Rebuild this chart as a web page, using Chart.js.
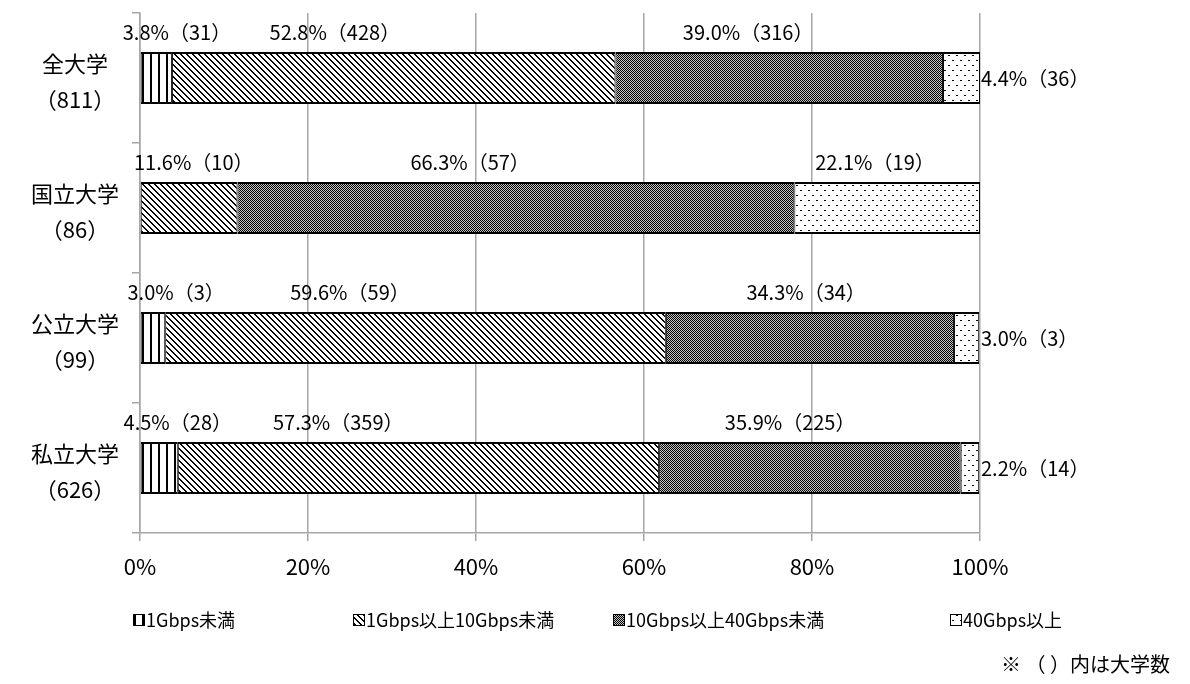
<!DOCTYPE html>
<html lang="ja">
<head>
<meta charset="utf-8">
<title>大学の対外接続回線帯域</title>
<script src="https://cdn.jsdelivr.net/npm/chart.js@4.4.1/dist/chart.umd.min.js"></script>
<style>
  html, body { margin: 0; padding: 0; background: #ffffff; }
  #wrap { width: 1190px; height: 684px; position: relative; }
  canvas { display: block; }
</style>
</head>
<body>
<div id="wrap"><canvas id="chart" width="1190" height="684"></canvas></div>
<script>
// Categories (university groups) and the number of universities in each
const groups = ['全大学', '国立大学', '公立大学', '私立大学'];
const groupTotals = [811, 86, 99, 626];

// Bandwidth classes
const bands = ['1Gbps未満', '1Gbps以上10Gbps未満', '10Gbps以上40Gbps未満', '40Gbps以上'];

// Share (%) per class, in group order
const under1G      = [3.8, 0.0, 3.0, 4.5];
const from1To10G   = [52.8, 11.6, 59.6, 57.3];
const from10To40G  = [39.0, 66.3, 34.3, 35.9];
const over40G      = [4.4, 22.1, 3.0, 2.2];

// Number of universities per class
const under1GCount     = [31, 0, 3, 28];
const from1To10GCount  = [428, 10, 59, 359];
const from10To40GCount = [316, 57, 34, 225];
const over40GCount     = [36, 19, 3, 14];

// Value-axis ticks
const axisTicks = [0, 20, 40, 60, 80, 100];

// Where each value label sits along the value axis (in %), null = right of bar end
const labelSpots = [
  [4.4, 23.2, 72.4, null],
  [null, 6.4, 39.3, 87.5],
  [4.3, 25.0, 79.3, null],
  [4.5, 23.6, 77.4, null]
];

const FONT = '"Noto Sans CJK JP", "Noto Sans", sans-serif';

// ---- monochrome fill patterns ----
function makePattern(w, h, paint) {
  const c = document.createElement('canvas');
  c.width = w; c.height = h;
  const g = c.getContext('2d');
  g.fillStyle = '#ffffff';
  g.fillRect(0, 0, w, h);
  g.fillStyle = '#000000';
  paint(g);
  return document.getElementById('chart').getContext('2d').createPattern(c, 'repeat');
}
const patVertical = makePattern(8, 1, g => { g.fillRect(6, 0, 2, 1); });
const patDiagonal = makePattern(6, 6, g => {
  for (let i = 0; i < 6; i++) { g.fillRect(i, i, 1, 1); g.fillRect((i + 1) % 6, i, 1, 1); }
});
const patChecker = makePattern(2, 2, g => {
  g.fillStyle = '#c4c4c4';
  g.fillRect(0, 0, 2, 2);
  g.fillStyle = '#000000';
  g.fillRect(0, 0, 1, 1);
  g.fillRect(1, 1, 1, 1);
});
const patDots = makePattern(8, 10, g => { g.fillRect(0, 0, 2, 1); g.fillRect(4, 5, 2, 1); });

const seriesValues = [under1G, from1To10G, from10To40G, over40G];
const seriesCounts = [under1GCount, from1To10GCount, from10To40GCount, over40GCount];
const seriesFills = [patVertical, patDiagonal, patChecker, patDots];

const datasets = bands.map((name, i) => ({
  label: name,
  data: seriesValues[i].map(v => (v > 0 ? v : null)),
  backgroundColor: seriesFills[i],
  borderColor: '#000000',
  borderWidth: { top: 2, bottom: 2, left: 1, right: 1 },
  borderSkipped: false,
  barPercentage: 0.4,
  categoryPercentage: 1.0
}));

// Group names with their totals, left of the axis
const groupLabels = {
  id: 'groupLabels',
  afterDraw(chart) {
    const ctx = chart.ctx;
    const ys = chart.scales.y;
    ctx.save();
    ctx.font = '22px ' + FONT;
    ctx.fillStyle = '#000000';
    ctx.textAlign = 'center';
    ctx.textBaseline = 'middle';
    groups.forEach((g, i) => {
      const yc = ys.getPixelForValue(i);
      ctx.fillText(g, 75, yc - 14);
      ctx.fillText('（' + groupTotals[i] + '）', 75, yc + 22);
    });
    ctx.restore();
  }
};

// Value labels "xx.x%（n）" above each segment / beside the last one
const valueLabels = {
  id: 'valueLabels',
  afterDatasetsDraw(chart) {
    const ctx = chart.ctx;
    const xs = chart.scales.x, ys = chart.scales.y;
    ctx.save();
    ctx.font = '20px ' + FONT;
    ctx.fillStyle = '#000000';
    ctx.textBaseline = 'middle';
    groups.forEach((g, gi) => {
      const yc = ys.getPixelForValue(gi);
      seriesValues.forEach((vals, si) => {
        const v = vals[gi];
        if (!(v > 0)) return;
        const txt = v.toFixed(1) + '%（' + seriesCounts[si][gi] + '）';
        const spot = labelSpots[gi][si];
        if (spot === null) {
          ctx.textAlign = 'left';
          ctx.fillText(txt, xs.getPixelForValue(100) + 1, yc);
        } else {
          ctx.textAlign = 'center';
          ctx.fillText(txt, xs.getPixelForValue(spot), yc - 46);
        }
      });
    });
    ctx.restore();
  }
};

// Legend row and footnote
const legendAndNote = {
  id: 'legendAndNote',
  afterDraw(chart) {
    const ctx = chart.ctx;
    const boxX = [133, 353, 613, 950];
    const y = 620;
    ctx.save();
    ctx.font = '18px ' + FONT;
    ctx.textBaseline = 'middle';
    ctx.textAlign = 'left';
    bands.forEach((name, i) => {
      ctx.fillStyle = seriesFills[i];
      ctx.fillRect(boxX[i], y - 6, 12, 12);
      ctx.strokeStyle = '#000000';
      ctx.lineWidth = 1;
      ctx.strokeRect(boxX[i] + 0.5, y - 5.5, 11, 11);
      ctx.fillStyle = '#000000';
      ctx.fillText(name, boxX[i] + 13, y);
    });
    ctx.font = '20px ' + FONT;
    ctx.textAlign = 'right';
    ctx.fillText('※ （ ）内は大学数', 1170, 664);
    ctx.restore();
  }
};

new Chart(document.getElementById('chart'), {
  type: 'bar',
  data: {
    labels: groups,
    datasets
  },
  options: {
    indexAxis: 'y',
    responsive: false,
    animation: false,
    layout: { padding: { left: 0, right: 210, top: 13, bottom: 0 } },
    plugins: { legend: { display: false }, tooltip: { enabled: false } },
    scales: {
      x: {
        stacked: true,
        min: 0,
        max: 100,
        afterFit(s) { s.height = 151; },
        afterBuildTicks(s) { s.ticks = axisTicks.map(v => ({ value: v })); },
        ticks: {
          callback: v => v + '%',
          color: '#000000',
          font: { family: FONT, size: 22 },
          padding: 12,
          maxRotation: 0
        },
        grid: { color: '#a6a6a6', lineWidth: 1.5, tickLength: 8, drawTicks: true },
        border: { color: '#a6a6a6', width: 1.5 }
      },
      y: {
        stacked: true,
        afterFit(s) { s.width = 140; },
        ticks: { display: false },
        grid: { drawOnChartArea: false, drawTicks: true, tickLength: 8, color: '#a6a6a6', lineWidth: 1.5, offset: true },
        border: { color: '#a6a6a6', width: 1.5 }
      }
    }
  },
  plugins: [valueLabels, groupLabels, legendAndNote]
});
</script>
</body>
</html>
